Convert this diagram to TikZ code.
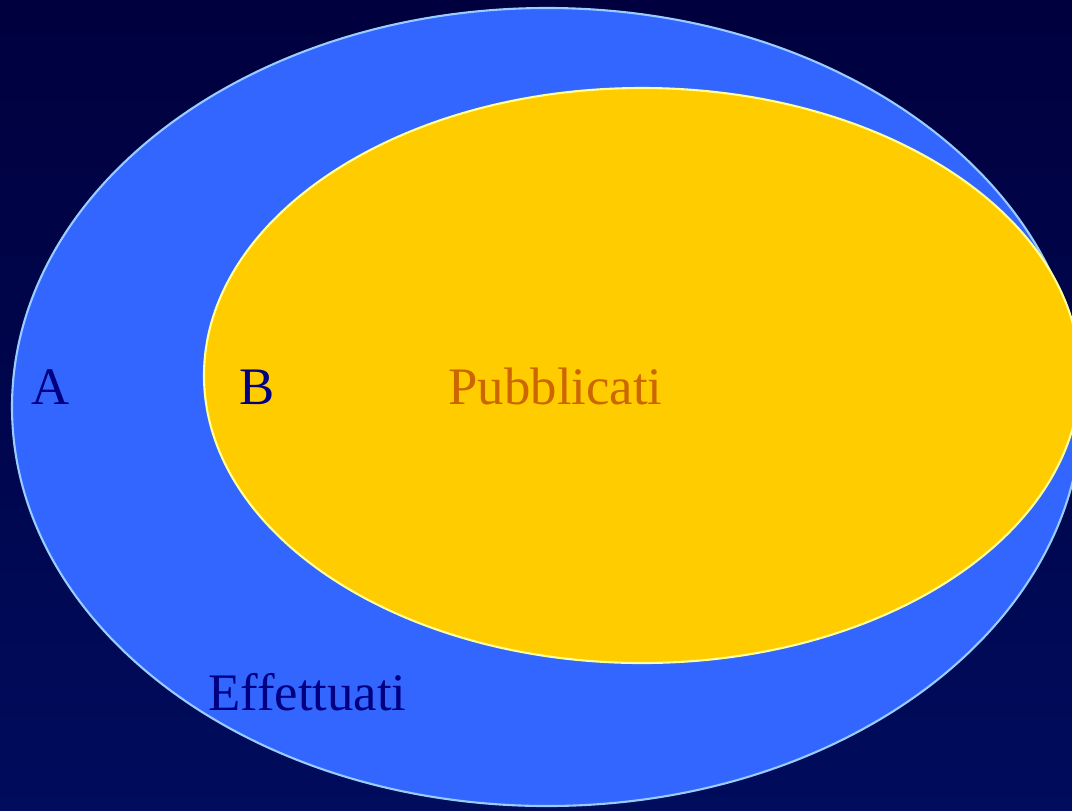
\documentclass[tikz,border=0pt]{standalone}
\usepackage{fontspec}
\setmainfont{Liberation Serif}
\usepackage{xcolor}
\usepackage{tikz}

\definecolor{bgtop}{RGB}{0,0,62}
\definecolor{bgbottom}{RGB}{0,12,92}
\definecolor{setblue}{RGB}{51,102,255}
\definecolor{setblueline}{RGB}{153,204,255}
\definecolor{setyellow}{RGB}{255,204,0}
\definecolor{setyellowline}{RGB}{255,255,153}
\definecolor{labnavy}{RGB}{0,0,128}
\definecolor{laborange}{RGB}{204,102,0}

\tikzset{
  setlabel/.style={anchor=base, inner sep=0pt, font=\fontsize{15}{18}\selectfont},
}

\begin{document}
\begin{tikzpicture}

\useasboundingbox (0,0) rectangle (10.72,8.10);
\shade[top color=bgtop, bottom color=bgbottom] (0,0) rectangle (10.72,8.10);

\begin{scope}
\clip (0,0) rectangle (10.72,8.10);
\filldraw[fill=setblue, draw=setblueline, line width=0.6pt]
  (5.47,4.03) ellipse [x radius=5.35, y radius=3.99];
\filldraw[fill=setyellow, draw=setyellowline, line width=0.6pt]
  (6.42,4.345) ellipse [x radius=4.38, y radius=2.875];
\end{scope}

\node[setlabel, text=labnavy] (labA) at (0.51,4.06) {A};
\node[setlabel, text=labnavy] (labB) at (2.57,4.06) {B};
\node[setlabel, text=laborange] (labpub) at (5.555,4.06) {Pubblicati};
\node[setlabel, text=labnavy] (labeff) at (3.075,1.00) {Effettuati};

\end{tikzpicture}
\end{document}
